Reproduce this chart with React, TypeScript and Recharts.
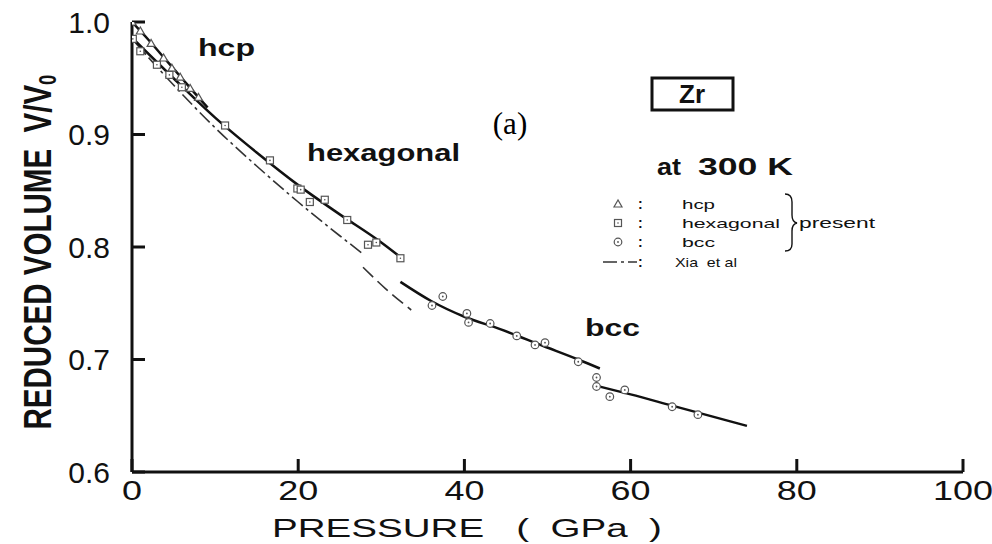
import {
  ComposedChart,
  Line,
  Scatter,
  XAxis,
  YAxis,
} from 'recharts'

// curves (pressure GPa -> V/V0)
const hcpCurveP = [0, 2, 4, 6, 8, 9.1]
const hcpCurveV = [1.0, 0.984, 0.967, 0.95, 0.933, 0.924]

const hexCurveP = [0, 5, 10, 15, 20, 25, 30, 32.3]
const hexCurveV = [0.986, 0.95, 0.915, 0.884, 0.855, 0.829, 0.804, 0.791]

const xiaCurveP1 = [0, 5, 10, 15, 20, 25, 27.6]
const xiaCurveV1 = [0.985, 0.944, 0.906, 0.872, 0.84, 0.81, 0.795]
const xiaCurveP2 = [27.8, 30.5, 33.6]
const xiaCurveV2 = [0.782, 0.763, 0.744]

const bccCurveP1 = [32.3, 36, 40, 44.3, 49.5, 53.7, 56.3]
const bccCurveV1 = [0.769, 0.752, 0.738, 0.727, 0.712, 0.7, 0.692]
const bccCurveP2 = [55.7, 60, 65, 70, 74]
const bccCurveV2 = [0.677, 0.669, 0.659, 0.649, 0.641]

// measured points
const hcpPointsP = [0, 1.0, 2.3, 3.8, 4.8, 5.8, 7.0, 8.0]
const hcpPointsV = [1.0, 0.992, 0.981, 0.968, 0.959, 0.951, 0.941, 0.933]

const hexPointsP = [0.1, 1.0, 3.0, 4.5, 6.0, 11.2, 16.6, 19.9, 20.3, 21.4, 23.2, 25.9, 28.4, 29.4, 32.3]
const hexPointsV = [0.985, 0.974, 0.962, 0.953, 0.942, 0.908, 0.877, 0.852, 0.851, 0.84, 0.842, 0.824, 0.802, 0.804, 0.79]

const bccPointsP = [36.1, 37.4, 40.3, 40.5, 43.1, 46.3, 48.5, 49.7, 53.7, 55.9, 55.9, 57.5, 59.3, 65.0, 68.1]
const bccPointsV = [0.748, 0.756, 0.741, 0.733, 0.732, 0.721, 0.713, 0.715, 0.698, 0.684, 0.676, 0.667, 0.673, 0.658, 0.651]

const xTicks = [0, 20, 40, 60, 80, 100]
const yTicks = [0.6, 0.7, 0.8, 0.9, 1.0]

const pairs = (ps: number[], vs: number[]) => ps.map((p, i) => ({ p, v: vs[i] }))

const hcpCurve = pairs(hcpCurveP, hcpCurveV)
const hexCurve = pairs(hexCurveP, hexCurveV)
const xiaCurve1 = pairs(xiaCurveP1, xiaCurveV1)
const xiaCurve2 = pairs(xiaCurveP2, xiaCurveV2)
const bccCurve1 = pairs(bccCurveP1, bccCurveV1)
const bccCurve2 = pairs(bccCurveP2, bccCurveV2)
const hcpPoints = pairs(hcpPointsP, hcpPointsV)
const hexPoints = pairs(hexPointsP, hexPointsV)
const bccPoints = pairs(bccPointsP, bccPointsV)

const INK = '#111'
const MARK = '#555'
const SANS = "'Liberation Sans', Arial, sans-serif"
const SERIF = "'Liberation Serif', 'Times New Roman', serif"

const TriangleMark = (props: any) => {
  const { cx, cy } = props
  return (
    <polygon
      points={`${cx},${cy - 4} ${cx - 4},${cy + 3} ${cx + 4},${cy + 3}`}
      fill="#fff"
      stroke={MARK}
      strokeWidth={1.2}
    />
  )
}

const SquareMark = (props: any) => {
  const { cx, cy } = props
  return (
    <g>
      <rect x={cx - 3.5} y={cy - 3.5} width={7} height={7} fill="#fff" stroke={MARK} strokeWidth={1.2} />
      <circle cx={cx} cy={cy} r={0.8} fill={MARK} />
    </g>
  )
}

const CircleMark = (props: any) => {
  const { cx, cy } = props
  return (
    <g>
      <circle cx={cx} cy={cy} r={3.8} fill="#fff" stroke={MARK} strokeWidth={1.2} />
      <circle cx={cx} cy={cy} r={0.9} fill={MARK} />
    </g>
  )
}

// wide plotter-style digits under the pressure axis
const PressureTick = (props: any) => {
  const { x, y, payload } = props
  const label = String(payload.value)
  return (
    <text
      x={x}
      y={y}
      dy="0.71em"
      textAnchor="middle"
      fontFamily={SANS}
      fontSize={27}
      fill={INK}
      textLength={label.length * 20}
      lengthAdjust="spacingAndGlyphs"
    >
      {label}
    </text>
  )
}

const NoTick = () => <g />

export default function App() {
  return (
    <div style={{ position: 'absolute', left: 0, top: 0, width: 992, height: 544, background: '#fff' }}>
      <ComposedChart width={992} height={544} margin={{ top: 22, right: 29, bottom: 0, left: 0 }}>
        <XAxis
          dataKey="p"
          type="number"
          domain={[0, 100]}
          ticks={xTicks}
          allowDataOverflow
          height={72}
          stroke={INK}
          strokeWidth={3}
          tickSize={-13}
          tickMargin={22}
          tick={PressureTick}
        />
        <XAxis
          xAxisId="top"
          orientation="top"
          type="number"
          domain={[0, 100]}
          ticks={xTicks}
          allowDataOverflow
          height={0}
          stroke={INK}
          strokeWidth={3}
          tickSize={-13}
          tick={NoTick}
        />
        <YAxis
          dataKey="v"
          type="number"
          domain={[0.6, 1.0]}
          ticks={yTicks}
          allowDataOverflow
          width={132}
          stroke={INK}
          strokeWidth={3}
          tickSize={-13}
          tickMargin={35}
          tickFormatter={(v: number) => v.toFixed(1)}
          tick={{ fontSize: 30, fill: INK, fontFamily: SANS }}
        />
        <YAxis
          yAxisId="right"
          orientation="right"
          type="number"
          domain={[0.6, 1.0]}
          ticks={yTicks}
          allowDataOverflow
          width={0}
          stroke={INK}
          strokeWidth={3}
          tickSize={-13}
          tick={NoTick}
        />

        <Line data={xiaCurve1} dataKey="v" type="monotone" stroke="#333" strokeWidth={1.6} strokeDasharray="14 4 3 4" dot={false} isAnimationActive={false} />
        <Line data={xiaCurve2} dataKey="v" type="monotone" stroke="#333" strokeWidth={1.6} strokeDasharray="14 6" dot={false} isAnimationActive={false} />
        <Line data={hcpCurve} dataKey="v" type="monotone" stroke={INK} strokeWidth={2.5} dot={false} isAnimationActive={false} />
        <Line data={hexCurve} dataKey="v" type="monotone" stroke={INK} strokeWidth={2.5} dot={false} isAnimationActive={false} />
        <Line data={bccCurve1} dataKey="v" type="monotone" stroke={INK} strokeWidth={2.5} dot={false} isAnimationActive={false} />
        <Line data={bccCurve2} dataKey="v" type="monotone" stroke={INK} strokeWidth={2.5} dot={false} isAnimationActive={false} />

        <Scatter data={hcpPoints} dataKey="v" shape={TriangleMark} isAnimationActive={false} />
        <Scatter data={hexPoints} dataKey="v" shape={SquareMark} isAnimationActive={false} />
        <Scatter data={bccPoints} dataKey="v" shape={CircleMark} isAnimationActive={false} />

        {/* axis titles */}
        <text
          transform="translate(38,252) rotate(-90)"
          textAnchor="middle"
          dominantBaseline="central"
          fontFamily={SANS}
          fontWeight="bold"
          fontSize={38}
          fill={INK}
          textLength={355}
          lengthAdjust="spacingAndGlyphs"
        >
          REDUCED VOLUME{'\u00a0\u00a0'}V/V<tspan fontSize={24} dy={9}>0</tspan>
        </text>
        <text
          x={272}
          y={537}
          fontFamily={SANS}
          fontSize={26}
          fill={INK}
          textLength={390}
          lengthAdjust="spacingAndGlyphs"
        >
          PRESSURE{'\u00a0\u00a0\u00a0'}({'\u00a0\u00a0'}GPa{'\u00a0\u00a0'})
        </text>

        {/* phase labels */}
        <text x={198} y={56} fontFamily={SANS} fontWeight="bold" fontSize={24} fill={INK} textLength={57} lengthAdjust="spacingAndGlyphs">hcp</text>
        <text x={307} y={161} fontFamily={SANS} fontWeight="bold" fontSize={24} fill={INK} textLength={153} lengthAdjust="spacingAndGlyphs">hexagonal</text>
        <text x={585} y={336} fontFamily={SANS} fontWeight="bold" fontSize={24} fill={INK} textLength={55} lengthAdjust="spacingAndGlyphs">bcc</text>
        <text x={510} y={134} textAnchor="middle" fontFamily={SERIF} fontSize={31} fill="#000">(a)</text>

        {/* Zr box */}
        <rect x={652} y={78} width={81} height={32} fill="none" stroke={INK} strokeWidth={3} />
        <text x={692} y={103} textAnchor="middle" fontFamily={SANS} fontWeight="bold" fontSize={26} fill={INK}>Zr</text>
        <text x={657} y={175} fontFamily={SANS} fontWeight="bold" fontSize={24} fill={INK} textLength={24} lengthAdjust="spacingAndGlyphs">at</text>
        <text x={698} y={175} fontFamily={SANS} fontWeight="bold" fontSize={24} fill={INK} textLength={95} lengthAdjust="spacingAndGlyphs">300 K</text>

        {/* key */}
        <TriangleMark cx={618} cy={204} />
        <SquareMark cx={618} cy={223} />
        <CircleMark cx={618} cy={242} />
        <line x1={603} y1={262} x2={637} y2={262} stroke="#333" strokeWidth={1.6} strokeDasharray="14 4 3 4" />
        {[204, 223, 242, 262].map((y) => (
          <text key={y} x={638} y={y + 5} fontFamily={SANS} fontWeight="bold" fontSize={14} fill={INK}>:</text>
        ))}
        <text x={682} y={209} fontFamily={SANS} fontSize={13} fill={INK} textLength={33} lengthAdjust="spacingAndGlyphs">hcp</text>
        <text x={682} y={228} fontFamily={SANS} fontSize={13} fill={INK} textLength={98} lengthAdjust="spacingAndGlyphs">hexagonal</text>
        <text x={682} y={247} fontFamily={SANS} fontSize={13} fill={INK} textLength={33} lengthAdjust="spacingAndGlyphs">bcc</text>
        <text x={675} y={267} fontFamily={SANS} fontSize={13} fill={INK} textLength={62} lengthAdjust="spacingAndGlyphs">Xia{'\u00a0\u00a0'}et al</text>
        <path d="M 785 194 Q 792 194 792 202 L 792 215 Q 792 222 797 223 Q 792 224 792 231 L 792 244 Q 792 251 785 251" fill="none" stroke={INK} strokeWidth={1.4} />
        <text x={799} y={228} fontFamily={SANS} fontSize={14} fill={INK} textLength={76} lengthAdjust="spacingAndGlyphs">present</text>
      </ComposedChart>
    </div>
  )
}
